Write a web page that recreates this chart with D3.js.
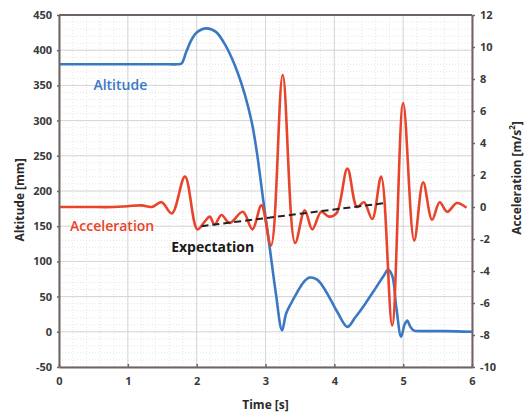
<!DOCTYPE html>
<html>
<head>
<meta charset="utf-8">
<script src="https://cdn.jsdelivr.net/npm/d3@7"></script>
<style>
  body { margin: 0; background: #fff; }
  svg { font-family: "Open Sans", sans-serif; }
  .tick text { font-weight: 700; font-size: 11px; fill: #3a3a3a; }
</style>
</head>
<body>
<svg width="528" height="415"></svg>
<script>
// time [s], altitude [mm]
var altTime = [0, 0.6, 1.2, 1.6, 1.72, 1.78, 1.85, 1.92, 2.0, 2.14, 2.28, 2.4, 2.5, 2.6, 2.7, 2.8, 2.87, 2.97, 3.07, 3.15, 3.24,
  3.3, 3.38, 3.46, 3.55, 3.64, 3.75, 3.85, 3.95, 4.05, 4.19, 4.3, 4.45, 4.6, 4.72, 4.78, 4.84, 4.9, 4.97,
  5.02, 5.06, 5.1, 5.15, 5.3, 5.6, 6.0];
var altitude = [380, 380, 380, 380, 380, 381, 398, 414, 425, 431, 426, 410, 391, 367, 337, 298, 258, 185, 113, 55, 2,
  26, 42, 56, 70, 77, 74, 62, 45, 27, 7, 20, 40, 62, 80, 88, 80, 35, -7,
  10, 16, 8, 2, 1, 1, 0];

// time [s], acceleration [m/s^2]
var accTime = [0, 0.4, 0.8, 1.0, 1.2, 1.35, 1.49, 1.64, 1.83, 2.01, 2.12, 2.19, 2.26, 2.36, 2.48, 2.67, 2.81, 2.94,
  3.08, 3.25, 3.43, 3.57, 3.68, 3.81, 3.92, 4.03, 4.19, 4.33, 4.43, 4.55, 4.68, 4.84, 5.0, 5.16, 5.29,
  5.42, 5.53, 5.64, 5.78, 5.92];
var acceleration = [0, 0, 0, 0.05, 0.1, 0, 0.3, -0.4, 1.9, -1.4, -0.9, -0.6, -1.1, -0.5, -1.0, -0.3, -1.4, 0.1,
  -2.4, 8.25, -2.25, -0.2, -1.4, -0.3, -0.6, -0.4, 2.4, 0, 0.3, -0.75, 1.9, -7.4, 6.5, -2.1, 1.55,
  -0.8, 0.3, -0.3, 0.25, -0.05];

// dashed expectation line (time, acceleration)
var expTime = [2.07, 4.75];
var expectation = [-1.2, 0.25];

var xTicks = [0, 1, 2, 3, 4, 5, 6];
var altTicks = [-50, 0, 50, 100, 150, 200, 250, 300, 350, 400, 450];
var accTicks = [-10, -8, -6, -4, -2, 0, 2, 4, 6, 8, 10, 12];

var svg = d3.select("svg"),
    margin = {top: 15, right: 56, bottom: 48, left: 59},
    width = 528 - margin.left - margin.right,
    height = 415 - margin.top - margin.bottom;

var g = svg.append("g").attr("transform", "translate(" + margin.left + "," + margin.top + ")");

var x = d3.scaleLinear().domain([0, 6]).range([0, width]);
var yAlt = d3.scaleLinear().domain([-50, 450]).range([height, 0]);
var yAcc = d3.scaleLinear().domain([-10, 12]).range([height, 0]);

var plain = function(d) { return String(d); };

// minor grid
g.append("g").selectAll("line")
    .data(d3.range(0, 6.01, 0.2))
    .enter().append("line")
    .attr("x1", function(d) { return x(d); }).attr("x2", function(d) { return x(d); })
    .attr("y1", 0).attr("y2", height)
    .attr("stroke", "#e6e6e6").attr("stroke-dasharray", "1,2");
g.append("g").selectAll("line")
    .data(d3.range(-50, 451, 10))
    .enter().append("line")
    .attr("y1", function(d) { return yAlt(d); }).attr("y2", function(d) { return yAlt(d); })
    .attr("x1", 0).attr("x2", width)
    .attr("stroke", "#e6e6e6").attr("stroke-dasharray", "1,2");

// major grid
g.append("g").selectAll("line")
    .data(xTicks)
    .enter().append("line")
    .attr("x1", function(d) { return x(d); }).attr("x2", function(d) { return x(d); })
    .attr("y1", 0).attr("y2", height)
    .attr("stroke", "#d6d6d6");
g.append("g").selectAll("line")
    .data(altTicks)
    .enter().append("line")
    .attr("y1", function(d) { return yAlt(d); }).attr("y2", function(d) { return yAlt(d); })
    .attr("x1", 0).attr("x2", width)
    .attr("stroke", "#d6d6d6");

var altLine = d3.line()
    .x(function(d, i) { return x(altTime[i]); })
    .y(function(d) { return yAlt(d); })
    .curve(d3.curveCatmullRom.alpha(0.5));

var accLine = d3.line()
    .x(function(d, i) { return x(accTime[i]); })
    .y(function(d) { return yAcc(d); })
    .curve(d3.curveCatmullRom.alpha(0.5));

g.append("path")
    .datum(altitude)
    .attr("d", altLine)
    .attr("fill", "none")
    .attr("stroke", "#3b78c2")
    .attr("stroke-width", 2.6);

g.append("path")
    .datum(acceleration)
    .attr("d", accLine)
    .attr("fill", "none")
    .attr("stroke", "#e8442c")
    .attr("stroke-width", 2.6);

g.append("path")
    .datum(expectation)
    .attr("d", d3.line()
        .x(function(d, i) { return x(expTime[i]); })
        .y(function(d) { return yAcc(d); }))
    .attr("fill", "none")
    .attr("stroke", "#222")
    .attr("stroke-width", 2)
    .attr("stroke-dasharray", "7,4");

// axes
var axisColor = "#6e6462";
function styleAxis(sel) {
  sel.select(".domain").attr("stroke", axisColor).attr("stroke-width", 2);
  sel.selectAll(".tick line").attr("stroke", axisColor).attr("stroke-width", 1.5);
}

g.append("g")
    .attr("transform", "translate(0," + height + ")")
    .call(d3.axisBottom(x).tickValues(xTicks).tickFormat(plain).tickSizeInner(-3).tickSizeOuter(0).tickPadding(10))
    .call(styleAxis);

g.append("g")
    .call(d3.axisLeft(yAlt).tickValues(altTicks).tickFormat(plain).tickSizeInner(2).tickSizeOuter(0).tickPadding(5))
    .call(styleAxis);

g.append("g")
    .attr("transform", "translate(" + width + ",0)")
    .call(d3.axisRight(yAcc).tickValues(accTicks).tickFormat(plain).tickSizeInner(3).tickSizeOuter(0).tickPadding(5))
    .call(styleAxis);

// top border
g.append("line")
    .attr("x1", 0).attr("x2", width).attr("y1", 0).attr("y2", 0)
    .attr("stroke", axisColor).attr("stroke-width", 2);

g.selectAll(".tick text").attr("font-family", "Open Sans, sans-serif");

// axis titles
svg.append("text")
    .attr("x", margin.left + width / 2).attr("y", 409)
    .attr("text-anchor", "middle")
    .attr("font-weight", 700).attr("font-size", 12).attr("fill", "#2a2a2a")
    .text("Time [s]");

svg.append("text")
    .attr("transform", "translate(24,200) rotate(-90)")
    .attr("text-anchor", "middle")
    .attr("font-weight", 700).attr("font-size", 12).attr("fill", "#2a2a2a")
    .text("Altitude [mm]");

var rt = svg.append("text")
    .attr("transform", "translate(521,178) rotate(-90)")
    .attr("text-anchor", "middle")
    .attr("font-weight", 700).attr("font-size", 12).attr("fill", "#2a2a2a");
rt.append("tspan").text("Acceleration [m/s");
rt.append("tspan").attr("font-size", 8).attr("dy", -6).text("2");
rt.append("tspan").attr("dy", 6).text("]");

// series labels
g.append("text")
    .attr("x", x(0.5)).attr("y", yAlt(350) + 5)
    .attr("font-weight", 600).attr("font-size", 14).attr("fill", "#3b78c2")
    .text("Altitude");

g.append("text")
    .attr("x", x(0.16)).attr("y", yAlt(150) + 5)
    .attr("font-weight", 600).attr("font-size", 14).attr("fill", "#e8442c")
    .text("Acceleration");

g.append("text")
    .attr("x", x(1.63)).attr("y", yAlt(120) + 5)
    .attr("font-weight", 700).attr("font-size", 14).attr("fill", "#1a1a1a")
    .text("Expectation");
</script>
</body>
</html>
